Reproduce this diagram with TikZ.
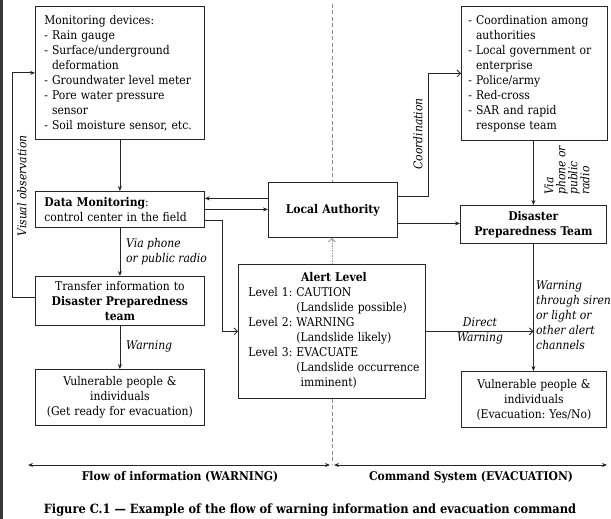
\documentclass[tikz,border=0pt]{standalone}
\usepackage{fontspec}
\setmainfont{DejaVu Serif Condensed}[
  BoldFont={DejaVu Serif Condensed Bold},
  ItalicFont={DejaVu Serif Condensed Italic},
  BoldItalicFont={DejaVu Serif Condensed Bold Italic}]
\usetikzlibrary{arrows.meta,calc}
\frenchspacing

\tikzset{
  txt/.style={font=\fontsize{12}{15}\selectfont},
  box/.style={txt, draw=black!85, line width=0.8pt, inner ysep=0pt, anchor=north west},
  lbox/.style={box, align=left},
  cbox/.style={box, align=center},
  link/.style={line width=0.8pt, draw=black!85, -{Stealth[length=5pt,width=4pt]}},
  twoway/.style={line width=0.8pt, draw=black!85, {Stealth[length=5pt,width=4pt]}-{Stealth[length=5pt,width=4pt]}},
  openlink/.style={line width=0.8pt, draw=black!85, -{Straight Barb[length=3.5pt,width=7pt]}},
  note/.style={font=\fontsize{12}{15}\selectfont\itshape, inner sep=1pt},
  heading/.style={font=\fontsize{12}{15}\selectfont\bfseries, inner sep=1pt},
  divider/.style={draw=black!45, line width=0.8pt, dash pattern=on 4pt off 2.5pt},
  feedback/.style={draw=black!40, line width=0.8pt, dash pattern=on 1.5pt off 1pt,
    -{Straight Barb[length=3.5pt,width=7pt]}}
}

\begin{document}
\begin{tikzpicture}[x=1pt,y=-1pt]
\useasboundingbox (0,0) rectangle (611,519);
\fill[white] (0,0) rectangle (611,519);
\fill[black!78] (0,0) rectangle (2.6,519);

% ---- left column: field monitoring and warning
\node[lbox, inner xsep=9pt, text width=151pt, minimum height=133pt] (mon) at (35,6)
  {Monitoring devices:\\
   - Rain gauge\\
   - Surface/underground\\
   \phantom{- }deformation\\
   - Groundwater level meter\\
   - Pore water pressure\\
   \phantom{- }sensor\\
   - Soil moisture sensor, etc.};

\node[lbox, inner xsep=9pt, text width=151pt, minimum height=36pt] (data) at (35,191)
  {\textbf{Data Monitoring}:\\control center in the field};

\node[cbox, inner xsep=9pt, text width=151pt, minimum height=49pt] (trans) at (35,276)
  {Transfer information to\\\textbf{Disaster Preparedness}\\\textbf{team}};

\node[cbox, inner xsep=9pt, text width=151pt, minimum height=56pt] (vulL) at (35,369)
  {Vulnerable people \&\\individuals\\(Get ready for evacuation)};

% ---- centre column
\node[cbox, inner xsep=8pt, text width=113pt, minimum height=55pt] (LA) at (268,182)
  {\textbf{Local Authority}};

\node[lbox, inner xsep=10pt, text width=167pt, minimum height=134pt] (alert) at (238,264)
  {\begin{tabular}{@{}l@{}}
   \multicolumn{1}{@{}c@{}}{\textbf{Alert Level}}\\
   Level 1: CAUTION\\
   \phantom{Level 1: }(Landslide possible)\\
   Level 2: WARNING\\
   \phantom{Level 2: }(Landslide likely)\\
   Level 3: EVACUATE\\
   \phantom{Level 3: }(Landslide occurrence\\
   \phantom{Level 3: (}imminent)
   \end{tabular}};

% ---- right column: command system
\node[lbox, inner xsep=7pt, text width=132pt, minimum height=134pt] (rt) at (461,6)
  {- Coordination among\\
   \phantom{- }authorities\\
   - Local government or\\
   \phantom{- }enterprise\\
   - Police/army\\
   - Red-cross\\
   - SAR and rapid\\
   \phantom{- }response team};

\node[cbox, inner xsep=6pt, text width=134pt, minimum height=38pt] (dpt) at (460,205)
  {\textbf{Disaster}\\\textbf{Preparedness Team}};

\node[cbox, inner xsep=6pt, text width=133pt, minimum height=56pt] (vulR) at (461,371)
  {Vulnerable people \&\\individuals\\(Evacuation: Yes/No)};

% ---- connectors, left column
\draw[link] (mon.south) -- (data.north);
\draw[link] (data.south) -- (trans.north);
\draw[link] (trans.south) -- (vulL.north);
\draw[link] ([yshift=3.5pt]trans.west) -- ++(-23,0) |- (mon.west);

\node[note, rotate=90] (lblvisual) at (22,186) {Visual observation};
\node[note, anchor=west, align=left] (lblphone) at (125,251.5) {Via phone\\or public radio};
\node[note, anchor=west] (lblwarnL) at (125,346) {Warning};

% data monitoring <-> local authority
\draw[link] ([yshift=11pt]data.east -| LA.west) -- ([yshift=11pt]data.east);
\draw[link] (data.east) -- (data.east -| LA.west);
\draw[openlink] ([yshift=-11pt]data.east) -- ++(18,0) |- (alert.west);

% alert level feeds the local authority
\draw[feedback] (alert.north) -- (alert.north |- LA.south);

% local authority to the command side
\draw[openlink] ([yshift=13.5pt]LA.east) -- ++(31,0) |- (rt.west);
\node[note, rotate=90] (lblcoord) at (418,134) {Coordination};
\coordinate (laout) at ([yshift=-13.5pt]LA.east);
\draw[link] (laout) -- (laout -| dpt.west);

\draw[link] (rt.south -| dpt.north) -- (dpt.north);
\node[note, rotate=90, anchor=west, align=left, font=\fontsize{12}{12}\selectfont\itshape]
  (lblvia) at (567,196) {Via\\phone or\\public\\radio};

\draw[link] (dpt.south) -- (dpt.south |- vulR.north);
\node[note, anchor=west, align=left] (lblsiren) at (535,315.5)
  {Warning\\through siren\\or light or\\other alert\\channels};

\draw[openlink] (alert.east) -- (alert.east -| dpt.south);
\node[note, align=center] (lbldirect) at (480,330.5) {Direct\\Warning};

% ---- divider between information flow and command system
\coordinate (divtop) at (332,4);
\coordinate (divbot) at (332,465);
\draw[divider] (divtop) -- (divtop |- LA.north);
\draw[divider] (alert.south -| divtop) -- (divbot);

\coordinate (flowL) at (28,465);
\coordinate (flowR) at (330,465);
\coordinate (cmdL) at (334,465);
\coordinate (cmdR) at (607,465);
\draw[twoway] (flowL) -- (flowR);
\draw[twoway] (cmdL) -- (cmdR);
\node[heading] (lblflow) at (180,477) {Flow of information (WARNING)};
\node[heading] (lblcmd) at (471,477) {Command System (EVACUATION)};

\node[heading, font=\fontsize{12.7}{15}\selectfont\bfseries] (caption) at (310,510)
  {Figure C.1 — Example of the flow of warning information and evacuation command};
\end{tikzpicture}
\end{document}
